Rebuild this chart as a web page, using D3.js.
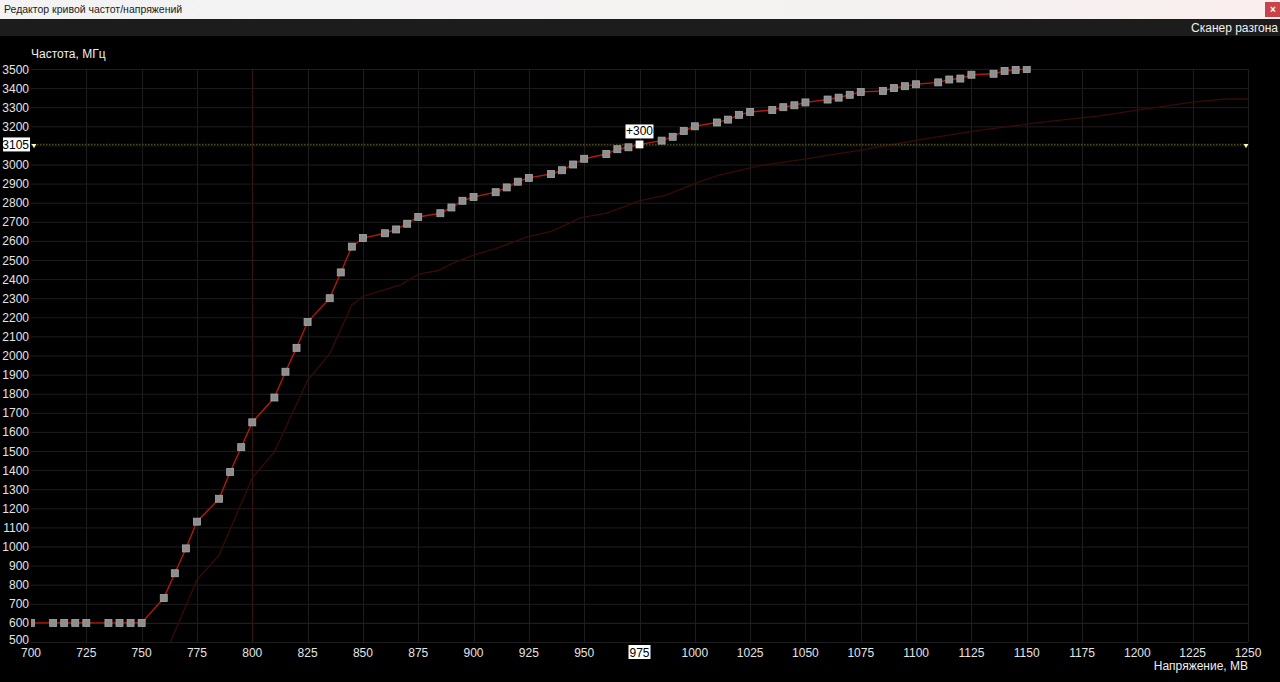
<!DOCTYPE html>
<html><head><meta charset="utf-8">
<script src="https://cdn.jsdelivr.net/npm/d3@7/dist/d3.min.js"></script>
<style>
html,body{margin:0;padding:0;background:#000;overflow:hidden;}
svg{display:block;font-family:"Liberation Sans",Arial,sans-serif;}
</style></head><body>
<svg id="c" width="1280" height="682"></svg>
<script>
// ---- data ----
const voltages = [700,710,715,720,725,735,740,745,750,760,765,770,775,785,790,795,800,810,815,820,825,835,840,845,850,860,865,870,875,885,890,895,900,910,915,920,925,935,940,945,950,960,965,970,975,985,990,995,1000,1010,1015,1020,1025,1035,1040,1045,1050,1060,1065,1070,1075,1085,1090,1095,1100,1110,1115,1120,1125,1135,1140,1145,1150];
const frequencies = [600,600,600,600,600,600,600,600,600,730,860,990,1130,1250,1390,1520,1650,1780,1915,2040,2175,2300,2435,2570,2615,2640,2660,2690,2725,2745,2775,2810,2830,2855,2880,2910,2930,2950,2970,3000,3030,3055,3080,3090,3105,3125,3145,3175,3200,3220,3235,3260,3275,3285,3300,3310,3325,3340,3350,3365,3380,3385,3400,3410,3420,3430,3445,3450,3470,3475,3490,3495,3500];
const baseVoltages = [763,775,785,800,810,825,835,845,850,867,875,884,891,900,910,924,935,940,948,960,966,975,987,1001,1011,1030,1048,1075,1102,1129,1156,1183,1200,1218,1225,1240,1250];
const baseFrequencies = [500,825,955,1360,1495,1870,2010,2265,2310,2370,2425,2445,2485,2525,2560,2620,2650,2675,2720,2745,2770,2810,2840,2905,2945,2995,3025,3075,3130,3180,3220,3255,3285,3315,3327,3343,3343];
const xTicks = d3.range(700, 1251, 25);
const yTicks = d3.range(500, 3501, 100);
const selVoltage = 975, selFrequency = 3105, selOffset = "+300";
const markerVoltage = 800, markerFrequency = 600;
const titleText = "Редактор кривой частот/напряжений";
const scannerText = "Сканер разгона";
const yTitle = "Частота, МГц", xTitle = "Напряжение, МВ";

// ---- layout ----
const svg = d3.select("#c");
const L = 31, R = 1248, T = 69, B = 642;
const x = d3.scaleLinear().domain([700,1250]).range([L,R]);
const y = d3.scaleLinear().domain([500,3500]).range([B,T]);

// title bar
const defs = svg.append("defs");
const grad = defs.append("linearGradient").attr("id","tb");
grad.append("stop").attr("offset","0%").attr("stop-color","#f3f3f3");
grad.append("stop").attr("offset","75%").attr("stop-color","#f5f1f1");
grad.append("stop").attr("offset","100%").attr("stop-color","#fbeeee");
svg.append("rect").attr("x",0).attr("y",0).attr("width",1280).attr("height",19).attr("fill","url(#tb)");
svg.append("text").attr("x",4).attr("y",13).attr("font-size",10.5).attr("fill","#1a1a1a").text(titleText);
svg.append("rect").attr("x",1265).attr("y",2).attr("width",15).attr("height",15).attr("fill","#c94449");
svg.append("text").attr("x",1273).attr("y",13).attr("text-anchor","middle").attr("font-size",10).attr("font-weight","bold").attr("fill","#fff").text("×");
svg.append("rect").attr("x",0).attr("y",19).attr("width",1280).attr("height",17).attr("fill","#1c1c1c");
svg.append("text").attr("x",1278).attr("y",32).attr("text-anchor","end").attr("font-size",12).attr("fill","#f0f0f0").text(scannerText);

// clip
defs.append("clipPath").attr("id","clip").append("rect")
  .attr("x",L).attr("y",T-3).attr("width",R-L).attr("height",B-T+3);

// grid
const g = svg.append("g");
g.selectAll(".hg").data(yTicks).join("line")
  .attr("x1",L).attr("x2",R).attr("y1",d=>y(d)+0.5).attr("y2",d=>y(d)+0.5)
  .attr("stroke","#1d1d1d").attr("stroke-width",1);
g.selectAll(".vg").data(xTicks.filter(d=>d>700)).join("line")
  .attr("y1",T).attr("y2",B).attr("x1",d=>Math.round(x(d))+0.5).attr("x2",d=>Math.round(x(d))+0.5)
  .attr("stroke","#1d1d1d").attr("stroke-width",1);
// marker lines
g.append("line").attr("x1",L).attr("x2",R).attr("y1",y(markerFrequency)+0.5).attr("y2",y(markerFrequency)+0.5).attr("stroke","#3a1410");
g.append("line").attr("y1",T).attr("y2",B).attr("x1",Math.round(x(markerVoltage))+0.5).attr("x2",Math.round(x(markerVoltage))+0.5).attr("stroke","#3a1410");

// axes labels
svg.selectAll(".yl").data(yTicks).join("text")
  .attr("x",29).attr("y",d=>y(d)+4.5 - (d===500?3:0)).attr("text-anchor","end").attr("font-size",12).attr("fill","#e4e4e4")
  .text(d=>d===3100?"":d);
svg.selectAll(".xl").data(xTicks).join("text")
  .attr("x",d=>x(d)).attr("y",657).attr("text-anchor","middle").attr("font-size",12).attr("fill","#e4e4e4")
  .text(d=>d===selVoltage?"":d);
svg.append("text").attr("x",31).attr("y",58).attr("font-size",12).attr("fill","#eee").text(yTitle);
svg.append("text").attr("x",1248).attr("y",670).attr("text-anchor","end").attr("font-size",12).attr("fill","#eee").text(xTitle);

const plot = svg.append("g").attr("clip-path","url(#clip)");
// base (dim) curve
const base = baseVoltages.map((v,i)=>[v,baseFrequencies[i]]);
plot.append("path").datum(base)
  .attr("d", d3.line().x(d=>x(d[0])).y(d=>y(d[1])))
  .attr("fill","none").attr("stroke","#380b06").attr("stroke-width",1.3);

// selection dotted line
plot.append("line").attr("x1",L).attr("x2",R).attr("y1",y(selFrequency)).attr("y2",y(selFrequency))
  .attr("stroke","#4e4e12").attr("stroke-width",1.5).attr("stroke-dasharray","1.5,1.5");

// main curve
const pts = voltages.map((v,i)=>[v,frequencies[i]]);
plot.append("path").datum(pts)
  .attr("d", d3.line().x(d=>x(d[0])).y(d=>y(d[1])))
  .attr("fill","none").attr("stroke","#b01a0a").attr("stroke-width",1.4);
plot.selectAll(".pt").data(pts).join("rect")
  .attr("x",d=>x(d[0])-3.5).attr("y",d=>y(d[1])-3.5).attr("width",7).attr("height",7)
  .attr("fill",d=>d[0]===selVoltage?"#ffffff":"#8e8e8e")
  .attr("stroke",d=>d[0]===selVoltage?"#ffffff":"#a8a8a8").attr("stroke-width",0.8);

// triangles on selection line
const tri = d3.symbol().type(d3.symbolTriangle).size(10);
[34,1246].forEach(tx=>{
  svg.append("path").attr("d",tri()).attr("transform",`translate(${tx},${y(selFrequency)+1}) rotate(180)`).attr("fill","#fdf7c0");
});

// y label box
svg.append("rect").attr("x",3).attr("y",y(selFrequency)-7).attr("width",27).attr("height",14).attr("fill","#fff");
svg.append("text").attr("x",29).attr("y",y(selFrequency)+4.5).attr("text-anchor","end").attr("font-size",12).attr("fill","#000").text(selFrequency);
// x label box
svg.append("rect").attr("x",x(selVoltage)-11).attr("y",645).attr("width",22).attr("height",14).attr("fill","#fff");
svg.append("text").attr("x",x(selVoltage)).attr("y",657).attr("text-anchor","middle").attr("font-size",12).attr("fill","#000").text(selVoltage);
// offset label
svg.append("rect").attr("x",x(selVoltage)-14).attr("y",y(selFrequency)-20).attr("width",28).attr("height",14).attr("fill","#fff");
svg.append("text").attr("x",x(selVoltage)).attr("y",y(selFrequency)-9).attr("text-anchor","middle").attr("font-size",12).attr("fill","#000").text(selOffset);
</script>
</body></html>
